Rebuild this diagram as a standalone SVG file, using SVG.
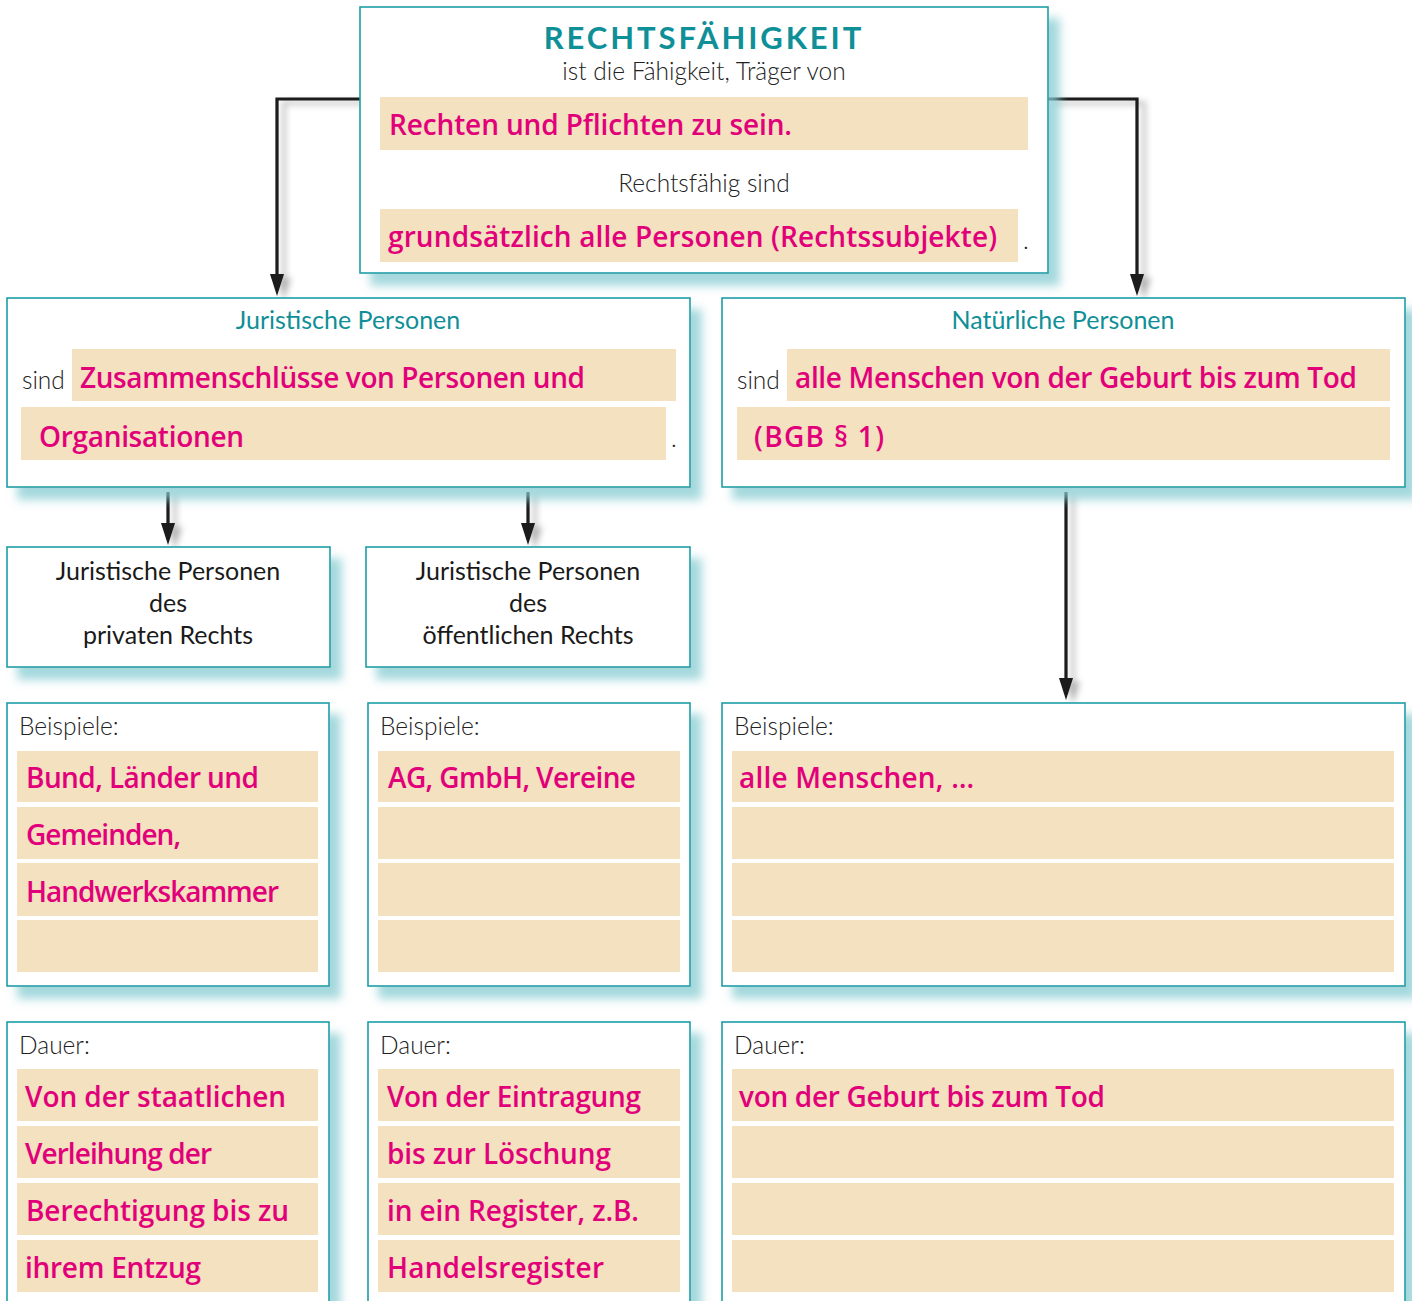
<svg xmlns="http://www.w3.org/2000/svg" width="1412" height="1301" viewBox="0 0 1412 1301">
<defs>
<filter id="sh" x="-10%" y="-10%" width="130%" height="140%">
<feGaussianBlur in="SourceAlpha" stdDeviation="5" result="b"/>
<feOffset in="b" dx="11" dy="12" result="o"/>
<feFlood flood-color="#86cbd1" flood-opacity="0.75"/>
<feComposite in2="o" operator="in" result="s"/>
<feMerge><feMergeNode in="s"/><feMergeNode in="SourceGraphic"/></feMerge>
</filter>
<filter id="ash" x="-50%" y="-10%" width="300%" height="130%">
<feGaussianBlur in="SourceAlpha" stdDeviation="3" result="b"/>
<feOffset in="b" dx="7" dy="4" result="o"/>
<feFlood flood-color="#000" flood-opacity="0.3"/>
<feComposite in2="o" operator="in" result="s"/>
<feMerge><feMergeNode in="s"/><feMergeNode in="SourceGraphic"/></feMerge>
</filter>
<marker id="ah" markerUnits="userSpaceOnUse" markerWidth="22" markerHeight="14" refX="0" refY="7" orient="auto" overflow="visible">
<path d="M0,0 L22,7 L0,14 z" fill="#1a1a1a"/>
</marker>
</defs>
<style>
.box{fill:#fff;stroke:#1d9ea5;stroke-width:1.6}
.fill{fill:#f3e1bf}
.hw{font-family:"Open Sans","Liberation Sans",sans-serif;font-weight:600;font-size:28px;fill:#e2007a}
.lbl{font-family:Lato,"Liberation Sans",sans-serif;font-weight:300;font-size:24.5px;fill:#222}
.blk{font-family:Lato,"Liberation Sans",sans-serif;font-weight:400;font-size:25px;fill:#1a1a1a;text-anchor:middle}
.ttl{font-family:Lato,"Liberation Sans",sans-serif;font-weight:400;font-size:25px;fill:#0f8f97;text-anchor:middle}
.con{fill:none;stroke:#1a1a1a;stroke-width:3.2}
</style>
<rect width="1412" height="1301" fill="#fff"/>

<g id="connectors" filter="url(#ash)">
<path class="con" d="M360,99 H277 V274" marker-end="url(#ah)"/>
<path class="con" d="M1048,99 H1137 V274" marker-end="url(#ah)"/>
<path class="con" d="M168,492 V523" marker-end="url(#ah)"/>
<path class="con" d="M528,492 V523" marker-end="url(#ah)"/>
<path class="con" d="M1066,492 V678" marker-end="url(#ah)"/>
</g>

<g id="rechtsfaehigkeit">
<rect class="box" x="360" y="7" width="688" height="266" filter="url(#sh)"/>
<text x="704" y="49" text-anchor="middle" font-family="Lato,'Liberation Sans',sans-serif" font-weight="700" font-size="31" letter-spacing="2.9" fill="#0f8f97">RECHTSFÄHIGKEIT</text>
<text class="lbl" x="704" y="80" text-anchor="middle">ist die Fähigkeit, Träger von</text>
<rect class="fill" x="380" y="97" width="648" height="53"/>
<text class="hw" x="389" y="135" textLength="403">Rechten und Pflichten zu sein.</text>
<text class="lbl" x="704" y="192" text-anchor="middle">Rechtsfähig sind</text>
<rect class="fill" x="380" y="209" width="638" height="53"/>
<text class="hw" x="388" y="247" textLength="609">grundsätzlich alle Personen (Rechtssubjekte)</text>
<text class="lbl" x="1023" y="249">.</text>
</g>

<g id="juristische">
<rect class="box" x="7" y="298" width="683" height="189" filter="url(#sh)"/>
<text class="ttl" x="348" y="329">Juristische Personen</text>
<text class="lbl" x="22" y="389">sind</text>
<rect class="fill" x="72" y="349" width="604" height="52"/>
<text class="hw" x="80" y="388" textLength="505">Zusammenschlüsse von Personen und</text>
<rect class="fill" x="21" y="407" width="645" height="53"/>
<text class="hw" x="39" y="447" textLength="205">Organisationen</text>
<text class="lbl" x="671" y="447">.</text>
</g>

<g id="natuerliche">
<rect class="box" x="722" y="298" width="683" height="189" filter="url(#sh)"/>
<text class="ttl" x="1063" y="329">Natürliche Personen</text>
<text class="lbl" x="737" y="389">sind</text>
<rect class="fill" x="787" y="349" width="603" height="52"/>
<text class="hw" x="795" y="388" textLength="562">alle Menschen von der Geburt bis zum Tod</text>
<rect class="fill" x="737" y="407" width="653" height="53"/>
<text class="hw" x="754" y="447" textLength="130">(BGB § 1)</text>
</g>

<g id="privat">
<rect class="box" x="7" y="547" width="323" height="120" filter="url(#sh)"/>
<text class="blk" x="168" y="580">Juristische Personen</text>
<text class="blk" x="168" y="612">des</text>
<text class="blk" x="168" y="644">privaten Rechts</text>
</g>

<g id="oeffentlich">
<rect class="box" x="366" y="547" width="324" height="120" filter="url(#sh)"/>
<text class="blk" x="528" y="580">Juristische Personen</text>
<text class="blk" x="528" y="612">des</text>
<text class="blk" x="528" y="644">öffentlichen Rechts</text>
</g>

<g id="beispiele-privat">
<rect class="box" x="7" y="703" width="322" height="283" filter="url(#sh)"/>
<text class="lbl" x="19" y="735">Beispiele:</text>
<rect class="fill" x="17" y="751" width="301" height="51"/>
<rect class="fill" x="17" y="807" width="301" height="52"/>
<rect class="fill" x="17" y="863" width="301" height="53"/>
<rect class="fill" x="17" y="920" width="301" height="52"/>
<text class="hw" x="26" y="788" textLength="233">Bund, Länder und</text>
<text class="hw" x="26" y="845" textLength="155">Gemeinden,</text>
<text class="hw" x="26" y="902" textLength="253">Handwerkskammer</text>
</g>

<g id="beispiele-oeffentlich">
<rect class="box" x="368" y="703" width="322" height="283" filter="url(#sh)"/>
<text class="lbl" x="380" y="735">Beispiele:</text>
<rect class="fill" x="378" y="751" width="302" height="51"/>
<rect class="fill" x="378" y="807" width="302" height="52"/>
<rect class="fill" x="378" y="863" width="302" height="53"/>
<rect class="fill" x="378" y="920" width="302" height="52"/>
<text class="hw" x="388" y="788" textLength="248">AG, GmbH, Vereine</text>
</g>

<g id="beispiele-natuerlich">
<rect class="box" x="722" y="703" width="683" height="283" filter="url(#sh)"/>
<text class="lbl" x="734" y="735">Beispiele:</text>
<rect class="fill" x="732" y="751" width="662" height="51"/>
<rect class="fill" x="732" y="807" width="662" height="52"/>
<rect class="fill" x="732" y="863" width="662" height="53"/>
<rect class="fill" x="732" y="920" width="662" height="52"/>
<text class="hw" x="739" y="788" textLength="235">alle Menschen, …</text>
</g>

<g id="dauer-privat">
<rect class="box" x="7" y="1022" width="322" height="300" filter="url(#sh)"/>
<text class="lbl" x="19" y="1054">Dauer:</text>
<rect class="fill" x="17" y="1069" width="301" height="52"/>
<rect class="fill" x="17" y="1126" width="301" height="52"/>
<rect class="fill" x="17" y="1183" width="301" height="52"/>
<rect class="fill" x="17" y="1240" width="301" height="52"/>
<text class="hw" x="25" y="1107" textLength="261">Von der staatlichen</text>
<text class="hw" x="25" y="1164" textLength="187">Verleihung der</text>
<text class="hw" x="26" y="1221" textLength="263">Berechtigung bis zu</text>
<text class="hw" x="25" y="1278" textLength="176">ihrem Entzug</text>
</g>

<g id="dauer-oeffentlich">
<rect class="box" x="368" y="1022" width="322" height="300" filter="url(#sh)"/>
<text class="lbl" x="380" y="1054">Dauer:</text>
<rect class="fill" x="378" y="1069" width="302" height="52"/>
<rect class="fill" x="378" y="1126" width="302" height="52"/>
<rect class="fill" x="378" y="1183" width="302" height="52"/>
<rect class="fill" x="378" y="1240" width="302" height="52"/>
<text class="hw" x="387" y="1107" textLength="254">Von der Eintragung</text>
<text class="hw" x="387" y="1164" textLength="224">bis zur Löschung</text>
<text class="hw" x="387" y="1221" textLength="252">in ein Register, z.B.</text>
<text class="hw" x="387" y="1278" textLength="217">Handelsregister</text>
</g>

<g id="dauer-natuerlich">
<rect class="box" x="722" y="1022" width="683" height="300" filter="url(#sh)"/>
<text class="lbl" x="734" y="1054">Dauer:</text>
<rect class="fill" x="732" y="1069" width="662" height="52"/>
<rect class="fill" x="732" y="1126" width="662" height="52"/>
<rect class="fill" x="732" y="1183" width="662" height="52"/>
<rect class="fill" x="732" y="1240" width="662" height="52"/>
<text class="hw" x="739" y="1107" textLength="366">von der Geburt bis zum Tod</text>
</g>
</svg>
